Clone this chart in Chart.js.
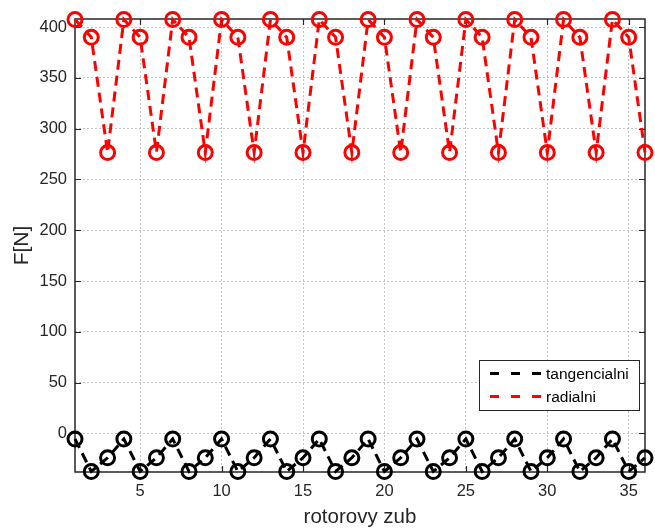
<!DOCTYPE html>
<html>
<head>
<meta charset="utf-8">
<script src="https://cdn.jsdelivr.net/npm/chart.js@4.4.0/dist/chart.umd.min.js"></script>
<style>
html,body{margin:0;padding:0;background:#ffffff;}
#wrap{width:655px;height:531px;position:relative;}
canvas{display:block;}
</style>
</head>
<body>
<div id="wrap"><canvas id="c" width="655" height="531"></canvas></div>
<script>
// ---- data ----
const teeth = [1,2,3,4,5,6,7,8,9,10,11,12,13,14,15,16,17,18,19,20,21,22,23,24,25,26,27,28,29,30,31,32,33,34,35,36];
const tangencialni = [-5.5,-37.5,-24,-5.5,-37.5,-24,-5.5,-37.5,-24,-5.5,-37.5,-24,-5.5,-37.5,-24,-5.5,-37.5,-24,
                      -5.5,-37.5,-24,-5.5,-37.5,-24,-5.5,-37.5,-24,-5.5,-37.5,-24,-5.5,-37.5,-24,-5.5,-37.5,-24];
const radialni = [407.5,390,276.5,407.5,390,276.5,407.5,390,276.5,407.5,390,276.5,407.5,390,276.5,407.5,390,276.5,
                  407.5,390,276.5,407.5,390,276.5,407.5,390,276.5,407.5,390,276.5,407.5,390,276.5,407.5,390,276.5];
const xTickValues = [5,10,15,20,25,30,35];
const yTickValues = [0,50,100,150,200,250,300,350,400];
const seriesNames = ['tangencialni','radialni'];
const xTitle = 'rotorovy zub';
const yTitle = 'F[N]';

// ---- styling ----
const FONT = "'Liberation Sans', Arial, Helvetica, sans-serif";
const TXT = '#262626';
const AXC = '#262626';
const colors = ['#000000','#ff0000'];

function toPts(ys){ return teeth.map((t,i)=>({x:t,y:ys[i]})); }

const boxPlugin = {
  id:'boxTicks',
  beforeDatasetsDraw(chart){
    const {ctx, chartArea:a, scales} = chart;
    ctx.save();
    ctx.strokeStyle = AXC;
    ctx.lineWidth = 1.5;
    ctx.setLineDash([]);
    ctx.strokeRect(a.left, a.top, a.right-a.left, a.bottom-a.top);
    const L = 6;
    ctx.lineWidth = 1.2;
    ctx.beginPath();
    xTickValues.forEach(v=>{
      const px = Math.round(scales.x.getPixelForValue(v))+0.5;
      ctx.moveTo(px,a.bottom); ctx.lineTo(px,a.bottom-L);
      ctx.moveTo(px,a.top); ctx.lineTo(px,a.top+L);
    });
    yTickValues.forEach(v=>{
      const py = Math.round(scales.y.getPixelForValue(v))+0.5;
      ctx.moveTo(a.left,py); ctx.lineTo(a.left+L,py);
      ctx.moveTo(a.right,py); ctx.lineTo(a.right-L,py);
    });
    ctx.stroke();
    ctx.restore();
  },
  afterDatasetsDraw(chart){
    const ctx = chart.ctx;
    ctx.save();
    // legend box
    const bx=479, by=360, bw=160, bh=50;
    ctx.fillStyle='#ffffff';
    ctx.fillRect(bx,by,bw,bh);
    ctx.strokeStyle=AXC; ctx.lineWidth=1; ctx.setLineDash([]);
    ctx.strokeRect(bx+0.5,by+0.5,bw,bh);
    const rows=[373.5,396.5];
    seriesNames.forEach((name,i)=>{
      ctx.strokeStyle=colors[i]; ctx.lineWidth=3; ctx.setLineDash([9,12]);
      ctx.beginPath(); ctx.moveTo(490,rows[i]); ctx.lineTo(542,rows[i]); ctx.stroke();
      ctx.setLineDash([]);
      ctx.fillStyle='#000000';
      ctx.font = '15.5px '+FONT;
      ctx.textBaseline='middle'; ctx.textAlign='left';
      ctx.fillText(name,546,rows[i]+1);
    });
    ctx.restore();
  }
};

const chart = new Chart(document.getElementById('c'),{
  type:'line',
  data:{
    datasets:[
      {label:seriesNames[0], data:toPts(tangencialni), borderColor:colors[0], backgroundColor:'rgba(0,0,0,0)',
       borderWidth:3, borderDash:[10,6], pointStyle:'circle', pointRadius:7, pointBorderWidth:3,
       pointBorderColor:colors[0], pointBackgroundColor:'rgba(0,0,0,0)', fill:false, tension:0, clip:false},
      {label:seriesNames[1], data:toPts(radialni), borderColor:colors[1], backgroundColor:'rgba(0,0,0,0)',
       borderWidth:3, borderDash:[10,6], pointStyle:'circle', pointRadius:7, pointBorderWidth:3,
       pointBorderColor:colors[1], pointBackgroundColor:'rgba(0,0,0,0)', fill:false, tension:0, clip:false}
    ]
  },
  options:{
    responsive:false,
    animation:false,
    devicePixelRatio:1,
    layout:{padding:{left:0,top:19,right:7,bottom:0}},
    plugins:{legend:{display:false}, tooltip:{enabled:false}},
    events:[],
    scales:{
      x:{
        type:'linear', min:1, max:36,
        afterBuildTicks(s){ s.ticks = xTickValues.map(v=>({value:v})); },
        afterFit(s){ s.height = 59; },
        grid:{color:'#c4c4c4', lineWidth:1, drawTicks:false},
        border:{display:false, dash:[2,2]},
        ticks:{color:TXT, font:{family:FONT,size:16.5}, padding:10, maxRotation:0, autoSkip:false},
        title:{display:true, text:xTitle, color:TXT, font:{family:FONT,size:20.5}, padding:{top:0,bottom:1}}
      },
      y:{
        type:'linear', min:-38, max:408,
        afterBuildTicks(s){ s.ticks = yTickValues.map(v=>({value:v})); },
        afterFit(s){ s.width = 75; },
        grid:{color:'#c4c4c4', lineWidth:1, drawTicks:false},
        border:{display:false, dash:[2,2]},
        ticks:{color:TXT, font:{family:FONT,size:16.5}, padding:8, autoSkip:false},
        title:{display:true, text:yTitle, color:TXT, font:{family:FONT,size:21}, padding:{top:10,bottom:0}}
      }
    }
  },
  plugins:[boxPlugin]
});
</script>
</body>
</html>
